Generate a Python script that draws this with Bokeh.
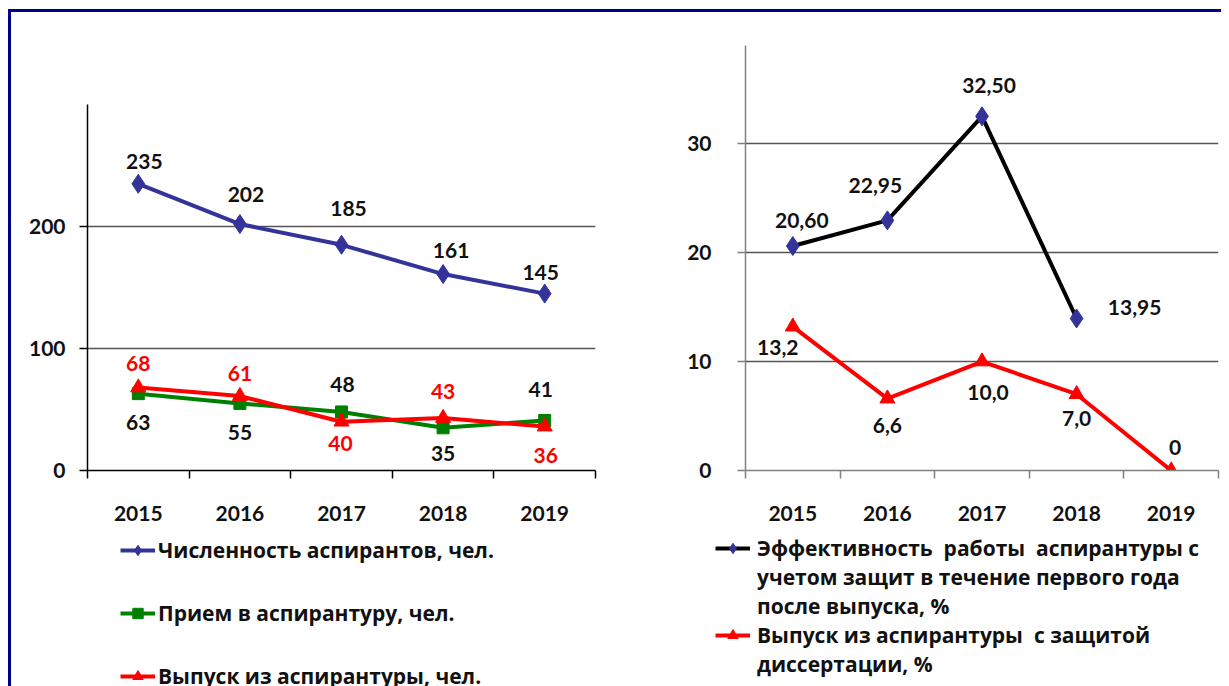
from bokeh.plotting import figure
from bokeh.models import Range1d, FixedTicker, Legend, LegendItem, ColumnDataSource
from bokeh.layouts import row, column
from bokeh.embed import file_html
from bokeh.resources import INLINE
from bokeh.core.properties import value

# ---------------- data ----------------
years = ["2015", "2016", "2017", "2018", "2019"]
students = [235, 202, 185, 161, 145]
admitted = [63, 55, 48, 35, 41]
graduates = [68, 61, 40, 43, 36]

efficiency = [20.60, 22.95, 32.50, 13.95]   # no value for 2019
defended = [13.2, 6.6, 10.0, 7.0, 0]

efficiency_text = ["20,60", "22,95", "32,50", "13,95"]
defended_text = ["13,2", "6,6", "10,0", "7,0", "0"]

left_series_names = ["Численность аспирантов, чел.",
                     "Прием в аспирантуру, чел.",
                     "Выпуск из аспирантуры, чел."]
right_series_lines = ["Эффективность  работы  аспирантуры с",
                      "учетом защит в течение первого года",
                      "после выпуска, %",
                      "Выпуск из аспирантуры  с защитой",
                      "диссертации, %"]

# label placement (screen px offsets of each value label from its point)
students_off = [(6, -22), (6, -30), (7, -36), (8, -24), (-4, -21)]
admitted_off = [(0, 29), (0, 29), (1, -27), (0, 26), (-4, -31)]
graduates_off = [(0, -24), (0, -23), (-1, 22), (0, -27), (1, 29)]
efficiency_off = [(9, -26), (-12, -35), (7, -31), (58, -11)]
defended_off = [(-15, 21), (0, 27), (6, 31), (0, 24), (4, -23)]

FONT = value("Lato")
FS = "21px"
NAVY = "#333399"
GREEN = "#008000"
RED = "#FF0000"
NAN = float("nan")

# layout geometry (pixels)
FRAME_H = 425          # plot frame height, same for both charts
LEFT_TOP_VALUE = 300   # left axis line ends at this value
LEFT_AXIS_PX = 366     # pixel length of the left axis line (0..300)
RIGHT_TOP_VALUE = 39


def style_axes(p, axis_color, yticks, ygrid_ticks, n, ystandoff, ybounds):
    idx = list(range(n))
    xa = p.xaxis[0]
    xa.ticker = FixedTicker(ticks=idx, minor_ticks=[i - 0.5 for i in range(n + 1)])
    xa.major_label_overrides = {i: years[i] for i in idx}
    xa.major_tick_out = 0
    xa.major_tick_in = 0
    xa.minor_tick_out = 8
    xa.minor_tick_in = 0
    xa.minor_tick_line_color = axis_color
    xa.minor_tick_line_width = 1.5
    xa.axis_line_color = axis_color
    xa.axis_line_width = 1.5
    xa.major_label_standoff = 27
    ya = p.yaxis[0]
    ya.ticker = FixedTicker(ticks=yticks)
    ya.bounds = ybounds
    ya.major_tick_out = 8
    ya.major_tick_in = 0
    ya.major_tick_line_color = axis_color
    ya.major_tick_line_width = 1.5
    ya.minor_tick_line_color = None
    ya.axis_line_color = axis_color
    ya.axis_line_width = 1.5
    ya.major_label_standoff = ystandoff
    for a in (xa, ya):
        a.major_label_text_font = "Lato"
        a.major_label_text_font_style = "bold"
        a.major_label_text_font_size = FS
        a.major_label_text_color = "#111111"
    p.xgrid.visible = False
    p.ygrid.ticker = FixedTicker(ticks=ygrid_ticks)
    p.ygrid.grid_line_color = "#555555"
    p.ygrid.grid_line_width = 1.5
    p.outline_line_color = None


def add_labels(p, xs, ys, texts, offs, color):
    src = ColumnDataSource(dict(x=xs, y=ys, t=texts,
                                dx=[o[0] for o in offs], dy=[o[1] for o in offs]))
    p.text(x="x", y="y", text="t", x_offset="dx", y_offset="dy", source=src,
           text_font=FONT, text_font_style="bold", text_font_size=FS,
           text_color=color, text_align="center", text_baseline="middle")


def key(f, line_color, marker, marker_size, marker_color):
    # invisible stand-in renderers that only supply the legend keys
    r1 = f.line(x=[NAN], y=[NAN], line_color=line_color, line_width=4)
    r2 = f.scatter(x=[NAN], y=[NAN], marker=marker, size=marker_size, color=marker_color)
    return [r1, r2]


def make_legend(items, loc, spacing, standoff):
    return Legend(items=items, location=loc, orientation="vertical",
                  glyph_width=35, glyph_height=26, label_height=26,
                  label_standoff=standoff, spacing=spacing, padding=0,
                  margin=0, border_line_color=None, background_fill_alpha=0,
                  label_text_font="Open Sans", label_text_font_style="bold",
                  label_text_font_size="21px", label_text_color="#111111")


# ---------------- left chart ----------------
# the left frame is as tall as the right one; its axis line stops at 300
p1 = figure(width=609, height=524, x_range=Range1d(-0.5, len(years) - 0.5),
            y_range=Range1d(0, LEFT_TOP_VALUE * FRAME_H / LEFT_AXIS_PX),
            output_backend="svg", toolbar_location=None,
            min_border_left=76, min_border_right=25, min_border_top=33,
            min_border_bottom=66)
style_axes(p1, "#000000", [0, 100, 200], [100, 200], len(years), 14, (0, LEFT_TOP_VALUE))

xi = list(range(len(years)))
p1.line(xi, students, line_color=NAVY, line_width=4)
p1.scatter(xi, students, marker="diamond", size=19, color=NAVY)
p1.line(xi, admitted, line_color=GREEN, line_width=4)
p1.scatter(xi, admitted, marker="square", size=12, color=GREEN)
p1.line(xi, graduates, line_color=RED, line_width=4)
p1.scatter(xi, graduates, marker="triangle", size=15, color=RED)

add_labels(p1, xi, students, [str(v) for v in students], students_off, "#111111")
add_labels(p1, xi, admitted, [str(v) for v in admitted], admitted_off, "#111111")
add_labels(p1, xi, graduates, [str(v) for v in graduates], graduates_off, RED)

# ---------------- right chart ----------------
p2 = figure(width=601, height=524, x_range=Range1d(-0.5, len(years) - 0.5),
            y_range=Range1d(0, RIGHT_TOP_VALUE),
            output_backend="svg", toolbar_location=None,
            min_border_left=125, min_border_right=3, min_border_top=33,
            min_border_bottom=66)
style_axes(p2, "#808080", [0, 10, 20, 30], [10, 20, 30], len(years), 26, (0, RIGHT_TOP_VALUE))

xe = list(range(len(efficiency)))
xd = list(range(len(defended)))
p2.line(xe, efficiency, line_color="#000000", line_width=4)
p2.scatter(xe, efficiency, marker="diamond", size=19, color=NAVY)
p2.line(xd, defended, line_color=RED, line_width=4)
p2.scatter(xd, defended, marker="triangle", size=15, color=RED)

add_labels(p2, xe, efficiency, efficiency_text, efficiency_off, "#111111")
add_labels(p2, xd, defended, defended_text, defended_off, "#111111")

# ---------------- legends (one strip under both charts) ----------------
lg = figure(width=1210, height=150, x_range=Range1d(0, 1), y_range=Range1d(0, 1),
            output_backend="svg", toolbar_location=None,
            x_axis_location=None, y_axis_location=None,
            min_border=0, min_border_left=0, min_border_right=0,
            min_border_top=0, min_border_bottom=0)
lg.grid.visible = False
lg.outline_line_color = None

lg.add_layout(make_legend(
    [LegendItem(label=left_series_names[0], renderers=key(lg, NAVY, "diamond", 19, NAVY)),
     LegendItem(label=left_series_names[1], renderers=key(lg, GREEN, "square", 12, GREEN)),
     LegendItem(label=left_series_names[2], renderers=key(lg, RED, "triangle", 15, RED))],
    (109, -4), 35, 3), "center")

lg.add_layout(make_legend(
    [LegendItem(label=right_series_lines[0], renderers=key(lg, "#000000", "diamond", 19, NAVY)),
     LegendItem(label=right_series_lines[1], renderers=[]),
     LegendItem(label=right_series_lines[2], renderers=[]),
     LegendItem(label=right_series_lines[3], renderers=key(lg, RED, "triangle", 15, RED)),
     LegendItem(label=right_series_lines[4], renderers=[])],
    (704, 8), 1, 7), "center")

layout = column(row(p1, p2), lg,
                styles={"border-top": "3px solid #00008B",
                        "border-left": "3px solid #00008B",
                        "margin-left": "8px", "margin-top": "9px"})

with open("out.html", "w") as f:
    f.write(file_html(layout, INLINE))
